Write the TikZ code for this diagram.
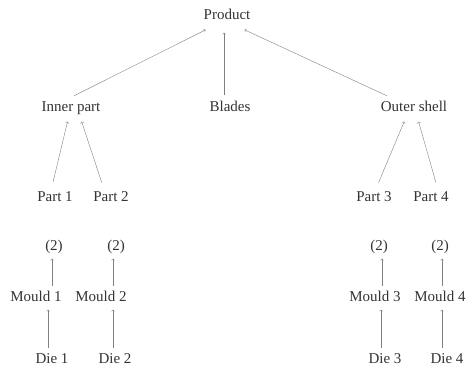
\documentclass[tikz,border=0pt]{standalone}
\usepackage{fontspec}
\setmainfont{Liberation Serif}
\begin{document}
\begin{tikzpicture}[x=1pt, y=-1pt, font=\fontsize{15}{17}\selectfont,
  every node/.style={text=black!80, inner sep=5pt, text height=10pt, text depth=3pt},
  arr/.style={->, black!50, line width=0.4pt}]

\useasboundingbox (0,0) rectangle (467,372);

% levels
\node (product) at (227,16) {Product};
\node (inner)  at (71,108)  {Inner part};
\node (blades) at (230,108) {Blades};
\node (outer)  at (414,108) {Outer shell};

\node (part1) at (55,198)  {Part 1};
\node (part2) at (111,198) {Part 2};
\node (part3) at (374,198) {Part 3};
\node (part4) at (431,198) {Part 4};

\node (two1) at (54,247)  {(2)};
\node (two2) at (116,247) {(2)};
\node (two3) at (379,247) {(2)};
\node (two4) at (440,247) {(2)};

\node (mould1) at (36,298)  {Mould 1};
\node (mould2) at (101,298) {Mould 2};
\node (mould3) at (375,298) {Mould 3};
\node (mould4) at (440,298) {Mould 4};

\node (die1) at (52,360)  {Die 1};
\node (die2) at (115,360) {Die 2};
\node (die3) at (385,360) {Die 3};
\node (die4) at (447,360) {Die 4};

% top arrows
\begin{scope}[arr, shorten <=1pt, shorten >=5pt]
\draw ([xshift=2pt]inner.north) -- ([xshift=-17pt]product.south);
\draw ([xshift=-6pt]blades.north) -- ([xshift=-6pt]blades.north |- product.south);
\draw ([xshift=-26pt]outer.north) -- ([xshift=13pt]product.south);
\end{scope}

% parts
\begin{scope}[arr, shorten <=4pt, shorten >=2pt]
\draw ([xshift=-3pt]part1.north) -- ([xshift=-3pt]inner.south);
\draw ([xshift=-8pt]part2.north) -- ([xshift=10pt]inner.south);
\draw ([xshift=3pt]part3.north) -- ([xshift=-9pt]outer.south);
\draw ([xshift=6pt]part4.north) -- ([xshift=4pt]outer.south);
\end{scope}

% moulds and dies
\begin{scope}[arr]
\draw ([xshift=-2pt]two1.south |- mould1.north) -- ([xshift=-2pt]two1.south);
\draw ([xshift=-3pt]two2.south |- mould2.north) -- ([xshift=-3pt]two2.south);
\draw ([xshift=3pt]two3.south |- mould3.north) -- ([xshift=3pt]two3.south);
\draw ([xshift=2pt]two4.south |- mould4.north) -- ([xshift=2pt]two4.south);

\draw ([xshift=-4pt]die1.north) -- ([xshift=-4pt]die1.north |- mould1.south);
\draw ([xshift=-2pt]die2.north) -- ([xshift=-2pt]die2.north |- mould2.south);
\draw ([xshift=-4pt]die3.north) -- ([xshift=-4pt]die3.north |- mould3.south);
\draw ([xshift=-5pt]die4.north) -- ([xshift=-5pt]die4.north |- mould4.south);
\end{scope}

\end{tikzpicture}
\end{document}
